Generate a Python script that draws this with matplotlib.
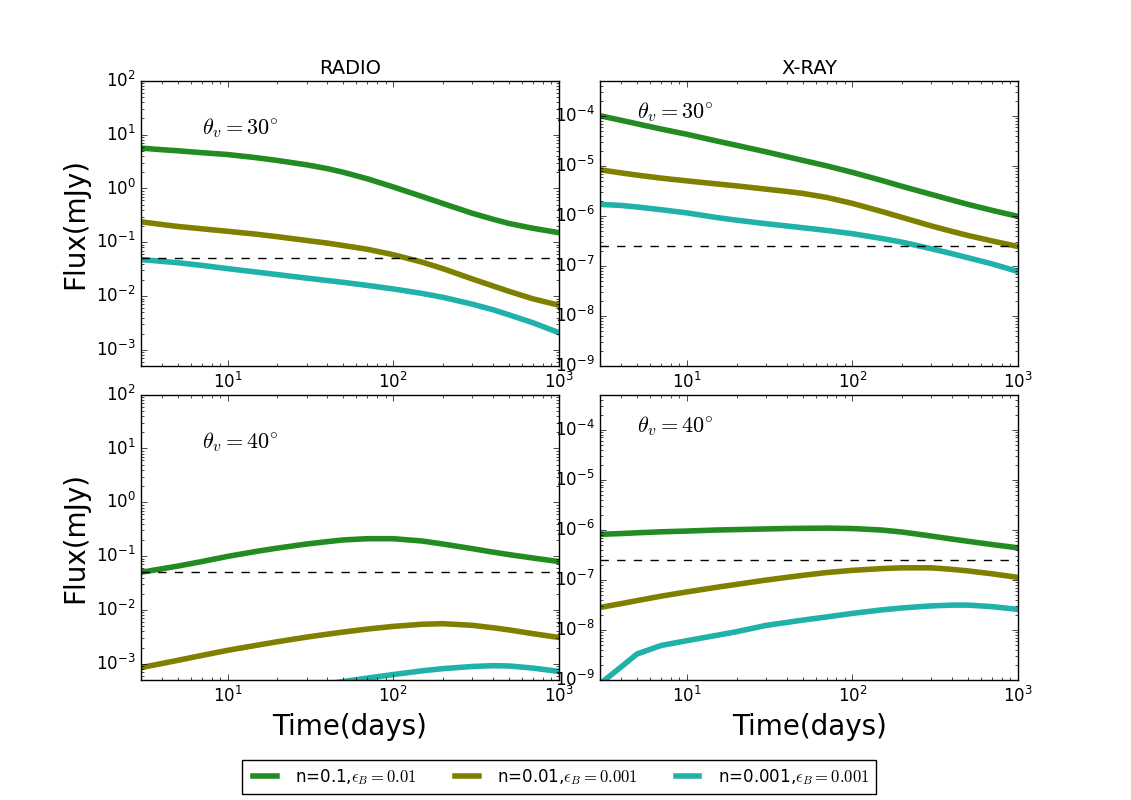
import numpy as np
import matplotlib
matplotlib.use('Agg')
import matplotlib.pyplot as plt

plt.style.use('classic')
plt.rcParams['axes.unicode_minus'] = False
plt.rcParams['mathtext.fontset'] = 'cm'

# time grid (days)
t = np.array([3, 4, 5, 7, 10, 15, 20, 30, 40, 50, 70, 100, 150, 200, 300, 400, 500, 700, 1000])

# radio, theta_v = 30 deg (mJy)
radio30_a = [5.62, 5.25, 5.01, 4.62, 4.27, 3.72, 3.31, 2.75, 2.34, 2.0, 1.51, 1.07, 0.708, 0.525, 0.347, 0.269, 0.224, 0.182, 0.151]
radio30_b = [0.24, 0.214, 0.197, 0.178, 0.160, 0.141, 0.127, 0.108, 0.0966, 0.0871, 0.0741, 0.0589, 0.0427, 0.0324, 0.0209, 0.0155, 0.0123, 0.0089, 0.0068]
radio30_c = [0.0479, 0.0442, 0.0417, 0.0372, 0.0324, 0.0279, 0.0251, 0.0216, 0.0195, 0.0180, 0.0158, 0.0136, 0.0112, 0.0095, 0.0071, 0.0056, 0.0045, 0.0032, 0.0021]

# x-ray, theta_v = 30 deg
xray30_a = [1.0e-4, 8.13e-5, 6.92e-5, 5.43e-5, 4.27e-5, 3.16e-5, 2.57e-5, 1.91e-5, 1.53e-5, 1.29e-5, 1.0e-5, 7.41e-6, 5.13e-6, 3.89e-6, 2.69e-6, 2.07e-6, 1.70e-6, 1.29e-6, 9.8e-7]
xray30_b = [8.32e-6, 7.24e-6, 6.53e-6, 5.69e-6, 5.01e-6, 4.37e-6, 3.98e-6, 3.43e-6, 3.09e-6, 2.82e-6, 2.34e-6, 1.78e-6, 1.23e-6, 9.33e-7, 6.31e-7, 4.90e-7, 4.07e-7, 3.16e-7, 2.45e-7]
xray30_c = [1.70e-6, 1.62e-6, 1.51e-6, 1.33e-6, 1.15e-6, 9.33e-7, 8.22e-7, 7.00e-7, 6.31e-7, 5.82e-7, 5.13e-7, 4.42e-7, 3.55e-7, 2.99e-7, 2.21e-7, 1.76e-7, 1.46e-7, 1.10e-7, 7.76e-8]

# radio, theta_v = 40 deg
radio40_a = [0.0501, 0.0582, 0.0653, 0.0794, 0.0989, 0.123, 0.141, 0.168, 0.186, 0.2, 0.211, 0.211, 0.191, 0.168, 0.138, 0.119, 0.107, 0.0923, 0.0794]
radio40_b = [8.51e-4, 1.01e-3, 1.16e-3, 1.43e-3, 1.78e-3, 2.21e-3, 2.57e-3, 3.13e-3, 3.55e-3, 3.89e-3, 4.42e-3, 4.95e-3, 5.43e-3, 5.56e-3, 5.19e-3, 4.68e-3, 4.27e-3, 3.63e-3, 3.09e-3]
radio40_c = [np.nan, np.nan, np.nan, np.nan, np.nan, np.nan, np.nan, np.nan, 4.27e-4, 4.68e-4, 5.43e-4, 6.31e-4, 7.41e-4, 8.13e-4, 8.91e-4, 9.23e-4, 9.12e-4, 8.32e-4, 7.24e-4]

# x-ray, theta_v = 40 deg
xray40_a = [8.13e-7, 8.41e-7, 8.71e-7, 9.12e-7, 9.44e-7, 9.89e-7, 1.01e-6, 1.04e-6, 1.06e-6, 1.07e-6, 1.08e-6, 1.06e-6, 9.89e-7, 9.02e-7, 7.50e-7, 6.53e-7, 5.89e-7, 5.07e-7, 4.37e-7]
xray40_b = [2.82e-8, 3.35e-8, 3.85e-8, 4.73e-8, 5.75e-8, 7.08e-8, 8.13e-8, 9.89e-8, 1.12e-7, 1.23e-7, 1.40e-7, 1.55e-7, 1.68e-7, 1.74e-7, 1.74e-7, 1.62e-7, 1.51e-7, 1.32e-7, 1.12e-7]
xray40_c = [8.5e-10, 1.82e-9, 3.31e-9, 4.90e-9, 6.10e-9, 7.76e-9, 9.23e-9, 1.23e-8, 1.41e-8, 1.57e-8, 1.82e-8, 2.14e-8, 2.51e-8, 2.75e-8, 3.02e-8, 3.13e-8, 3.13e-8, 2.92e-8, 2.57e-8]

radio_limit = 0.05
xray_limit = 2.5e-7

colors = ['forestgreen', 'olive', 'lightseagreen']
labels = [r'n=0.1,$\epsilon_B=0.01$', r'n=0.01,$\epsilon_B=0.001$', r'n=0.001,$\epsilon_B=0.001$']

fig, axes = plt.subplots(2, 2, figsize=(11.31, 8), facecolor='white')
fig.subplots_adjust(left=0.1247, right=0.9, bottom=0.15, top=0.899, wspace=0.1, hspace=0.1)

panels = [
    (axes[0, 0], [radio30_a, radio30_b, radio30_c], radio_limit, (5e-4, 1e2), (7, 10), r'$\theta_v=30^{\circ}$'),
    (axes[0, 1], [xray30_a, xray30_b, xray30_c], xray_limit, (1e-9, 5e-4), (5, 9e-5), r'$\theta_v=30^{\circ}$'),
    (axes[1, 0], [radio40_a, radio40_b, radio40_c], radio_limit, (5e-4, 1e2), (7, 10), r'$\theta_v=40^{\circ}$'),
    (axes[1, 1], [xray40_a, xray40_b, xray40_c], xray_limit, (1e-9, 5e-4), (5, 9e-5), r'$\theta_v=40^{\circ}$'),
]

handles = []
for ax, series, limit, ylim, txt_pos, txt in panels:
    hs = []
    for y, c in zip(series, colors):
        h, = ax.plot(t, y, color=c, lw=4)
        hs.append(h)
    handles = hs
    ax.axhline(limit, color='k', ls='--', lw=1)
    ax.set_xscale('log')
    ax.set_yscale('log')
    ax.set_xlim(3, 1000)
    ax.set_ylim(*ylim)
    ax.text(txt_pos[0], txt_pos[1], txt, fontsize=16)

axes[0, 0].set_title('RADIO', fontsize=14)
axes[0, 1].set_title('X-RAY', fontsize=14)
for ax in axes[:, 0]:
    ax.set_ylabel('Flux(mJy)', fontsize=20)
for ax in axes[1, :]:
    ax.set_xlabel('Time(days)', fontsize=20)

fig.legend(handles, labels, loc='lower center', bbox_to_anchor=(0.494, 0.008),
           borderaxespad=0, ncol=3, fontsize=12)

fig.savefig('out.png', dpi=100, facecolor='white')
